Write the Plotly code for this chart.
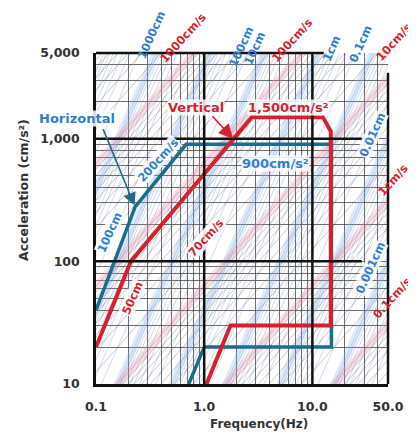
import math
import plotly.graph_objects as go

# ---------------- data ----------------
x_tick_vals = [0.1, 1, 10, 50]
x_tick_text = ["0.1", "1.0", "10.0", "50.0"]
y_tick_vals = [10, 100, 1000, 5000]
y_tick_text = ["10", "100", "1,000", "5,000"]

# Horizontal spectrum (frequency Hz, acceleration cm/s2)
h_freq = [0.1, 0.23, 0.68, 15, 15, 1.0, 0.72]
h_acc = [40, 278, 900, 900, 20, 20, 10]
# Vertical spectrum
v_freq = [0.1, 0.21, 2.75, 12.5, 14.8, 14.8, 1.75, 1.05]
v_acc = [20, 100, 1500, 1500, 1150, 30, 30, 10]

# tripartite reference lines
disp_values = [1000, 100, 10, 1, 0.1, 0.01, 0.001]          # cm
disp_labels = ["1000cm", "100cm", "10cm", "1cm", "0.1cm", "0.01cm", "0.001cm"]
vel_values = [1000, 100, 10, 1, 0.1]                         # cm/s
vel_labels = ["1000cm/s", "100cm/s", "10cm/s", "1cm/s", "0.1cm/s"]
minor_mult = [2, 3, 4, 5, 6, 7, 8, 9]

# ---------------- style ----------------
TEAL = "#1d6c8c"
RED = "#d81f2e"
BLUE = "#2f7fd3"
FONT = "DejaVu Sans, Verdana, sans-serif"

OFF = 8  # page body margin
L, R, T, B = 96 - OFF, 24, 53 - OFF, 50
W, H = 416 - OFF, 434 - OFF
PW, PH = W - L - R, H - T - B


def px(xp, yp):
    """reference-image pixel -> paper coords"""
    return (xp - OFF - L) / PW, (H - B - (yp - OFF)) / PH


fig = go.Figure()

f_ends = [0.05, 100]

# minor tripartite hatching
mx, my = [], []
for d0 in [1000, 100, 10, 1, 0.1, 0.01, 0.001, 0.0001]:
    for m in [1] + minor_mult:
        d = d0 * m
        for f in f_ends:
            mx.append(f)
            my.append((2 * math.pi * f) ** 2 * d)
        mx.append(None); my.append(None)
fig.add_trace(go.Scatter(x=mx, y=my, mode="lines",
                         line=dict(color="rgba(110,140,190,0.45)", width=0.7),
                         hoverinfo="skip", showlegend=False))
vx, vy = [], []
for v0 in [1000, 100, 10, 1, 0.1, 0.01]:
    for m in [1] + minor_mult:
        v = v0 * m
        for f in f_ends:
            vx.append(f)
            vy.append(2 * math.pi * f * v)
        vx.append(None); vy.append(None)
fig.add_trace(go.Scatter(x=vx, y=vy, mode="lines",
                         line=dict(color="rgba(90,90,90,0.45)", width=0.7),
                         hoverinfo="skip", showlegend=False))

# pale bands for decade lines
bx, by = [], []
for d in disp_values:
    for f in f_ends:
        bx.append(f); by.append((2 * math.pi * f) ** 2 * d)
    bx.append(None); by.append(None)
fig.add_trace(go.Scatter(x=bx, y=by, mode="lines",
                         line=dict(color="rgba(120,170,235,0.25)", width=7),
                         hoverinfo="skip", showlegend=False))
px_, py_ = [], []
for v in vel_values:
    for f in f_ends:
        px_.append(f); py_.append(2 * math.pi * f * v)
    px_.append(None); py_.append(None)
fig.add_trace(go.Scatter(x=px_, y=py_, mode="lines",
                         line=dict(color="rgba(240,140,165,0.28)", width=7),
                         hoverinfo="skip", showlegend=False))

# spectra
fig.add_trace(go.Scatter(x=h_freq, y=h_acc, mode="lines",
                         line=dict(color=TEAL, width=3.5), showlegend=False))
fig.add_trace(go.Scatter(x=v_freq, y=v_acc, mode="lines",
                         line=dict(color=RED, width=4), showlegend=False))


# grid tick values (log minor grid)
def minor_vals(lo, hi):
    out = []
    k = math.floor(math.log10(lo))
    while 10 ** k <= hi:
        for m in range(1, 10):
            v = m * 10 ** k
            if lo - 1e-9 <= v <= hi + 1e-9:
                out.append(round(v, 6))
        k += 1
    return out


xg = minor_vals(0.1, 50)
yg = minor_vals(10, 5000)
xt = [x_tick_text[x_tick_vals.index(v)] if v in x_tick_vals else "" for v in xg]
yt = [y_tick_text[y_tick_vals.index(v)] if v in y_tick_vals else "" for v in yg]

axfont = dict(family=FONT, size=12.5, color="#333333", weight="bold")
fig.update_xaxes(type="log", range=[math.log10(0.1), math.log10(50)],
                 tickvals=xg, ticktext=xt, showgrid=True,
                 gridcolor="rgba(60,60,60,0.75)", gridwidth=0.8,
                 showline=True, linecolor="#111", linewidth=2.5,
                 ticks="", tickfont=axfont, ticklabelstandoff=9,
                 zeroline=False)
fig.update_yaxes(type="log", range=[math.log10(10), math.log10(5000)],
                 tickvals=yg, ticktext=yt, showgrid=True,
                 gridcolor="rgba(60,60,60,0.75)", gridwidth=0.8,
                 showline=True, linecolor="#111", linewidth=2.5,
                 ticks="", tickfont=axfont, ticklabelstandoff=11,
                 zeroline=False)

shapes = []
for fv in [1, 10]:
    shapes.append(dict(type="line", xref="x", yref="paper", x0=fv, x1=fv, y0=0, y1=1,
                       line=dict(color="#111", width=2.5)))
for av in [100, 1000]:
    shapes.append(dict(type="line", xref="paper", yref="y", x0=0, x1=0.91, y0=av, y1=av,
                       line=dict(color="#111", width=2.5)))
# top and right frame pieces
shapes.append(dict(type="line", xref="paper", yref="paper", x0=0, x1=0.78, y0=1, y1=1,
                   line=dict(color="#111", width=2.5)))
shapes.append(dict(type="line", xref="paper", yref="paper", x0=1, x1=1, y0=0, y1=0.94,
                   line=dict(color="#111", width=2.5)))

ann = []


def label(text, xp, yp, color, angle=0, size=11.5, bg=None):
    x, y = px(xp, yp)
    d = dict(text="<b>%s</b>" % text, x=x, y=y, xref="paper", yref="paper",
             xanchor="center", yanchor="middle",
             showarrow=False, textangle=angle,
             font=dict(family=FONT, size=size, color=color))
    if bg:
        d["bgcolor"] = bg
        d["borderpad"] = 0
    ann.append(d)


# outer reference-line labels
disp_pos = [(152, 35), (243, 47), (257, 48), (335, 48), (364, 44), (376, 135), (374, 268)]
vel_pos = [(184, 38), (295, 40), (398, 42), (397, 180), (396, 298)]
for t, (xp, yp) in zip(disp_labels, disp_pos):
    label(t, xp, yp, BLUE, -66, bg="rgba(255,255,255,0.85)" if yp > 100 else None)
for t, (xp, yp) in zip(vel_labels, vel_pos):
    label(t, xp, yp, RED, -48)

# curve labels
label("200cm/s", 159, 160, BLUE, -48, bg="rgba(255,255,255,0.9)")
label("70cm/s", 207, 238, RED, -48, bg="rgba(255,255,255,0.9)")
label("100cm", 110, 232, BLUE, -66, bg="rgba(255,255,255,0.9)")
label("50cm", 133, 298, RED, -66, bg="rgba(255,255,255,0.9)")
label("900cm/s²", 278, 163, BLUE, 0, size=13, bg="rgba(255,255,255,0.85)")
label("1,500cm/s²", 291, 107, RED, 0, size=13, bg="rgba(255,255,255,0.85)")
label("Horizontal", 77, 118, BLUE, 0, size=13, bg="rgba(255,255,255,0.85)")
label("Vertical", 197, 108, RED, 0, size=13, bg="rgba(255,255,255,0.85)")

# pointers
ann.append(dict(x=math.log10(0.227), y=math.log10(285), xref="x", yref="y",
                ax=-32, ay=-78, showarrow=True, arrowhead=2, arrowsize=1.6,
                arrowwidth=1.6, arrowcolor=TEAL, text=""))
ann.append(dict(x=math.log10(1.85), y=math.log10(1000), xref="x", yref="y",
                ax=-22, ay=-24, showarrow=True, arrowhead=2, arrowsize=1.8,
                arrowwidth=1.6, arrowcolor=RED, text=""))

# axis titles
x, y = px(261, 424)
ann.append(dict(text="<b>Frequency(Hz)</b>", x=x, y=y, xref="paper", yref="paper",
                xanchor="center", yanchor="middle",
                showarrow=False, font=dict(family=FONT, size=12, color="#333")))
x, y = px(22, 190)
ann.append(dict(text="<b>Acceleration (cm/s²)</b>", x=x, y=y, xref="paper", yref="paper",
                xanchor="center", yanchor="middle",
                showarrow=False, textangle=-90, font=dict(family=FONT, size=12.5, color="#333")))

fig.update_layout(width=W, height=H, margin=dict(l=L, r=R, t=T, b=B),
                  paper_bgcolor="white", plot_bgcolor="white",
                  shapes=shapes, annotations=ann, showlegend=False)

fig.write_html("out.html")
